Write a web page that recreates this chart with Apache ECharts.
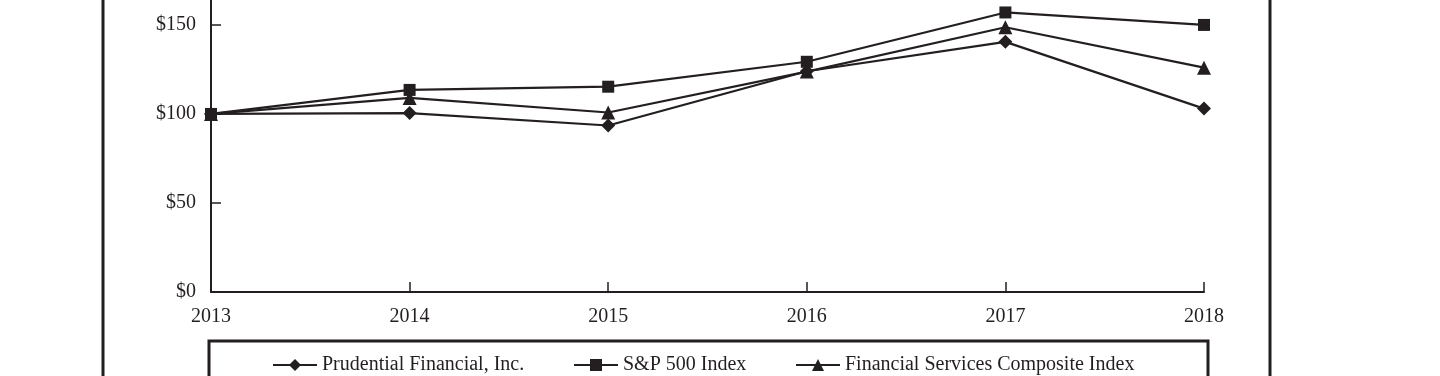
<!DOCTYPE html>
<html>
<head>
<meta charset="utf-8">
<script src="https://cdn.jsdelivr.net/npm/echarts@6/dist/echarts.min.js"></script>
<style>
html,body{margin:0;padding:0;background:#fff;}
#chart{width:1440px;height:376px;}
</style>
</head>
<body>
<div id="chart"></div>
<script>
const years = ['2013', '2014', '2015', '2016', '2017', '2018'];
const prudential = [100, 100.5, 93.5, 124, 140.5, 103];
const sp500 = [100, 113.5, 115.3, 129.3, 157, 150];
const finServices = [100, 109, 100.8, 123.8, 148.7, 126];
const seriesNames = ['Prudential Financial, Inc.', 'S&P 500 Index', 'Financial Services Composite Index'];
const yTicks = [0, 50, 100, 150];

const INK = '#231f20';
const FONT = '"Liberation Serif", "DejaVu Serif", serif';

const chart = echarts.init(document.getElementById('chart'), null, {renderer: 'canvas'});

function mkSeries(name, data, symbol, size) {
  return {
    name: name,
    type: 'line',
    data: data,
    symbol: symbol,
    symbolSize: size,
    showAllSymbol: true,
    lineStyle: {color: INK, width: 2.2},
    itemStyle: {color: INK},
    emphasis: {disabled: true},
    animation: false,
    z: 3
  };
}

const legendBase = {
  top: 355,
  padding: 0,
  itemWidth: 44,
  itemHeight: 15,
  orient: 'horizontal',
  textStyle: {fontFamily: FONT, fontSize: 20, color: INK},
  selectedMode: false
};

chart.setOption({
  animation: false,
  backgroundColor: '#fff',
  grid: {left: 211, right: 236, top: 0, bottom: 84, containLabel: false},
  xAxis: {
    type: 'category',
    data: years,
    boundaryGap: false,
    axisLine: {lineStyle: {color: INK, width: 2}},
    axisTick: {inside: true, length: 10, lineStyle: {color: INK, width: 1.5}},
    axisLabel: {fontFamily: FONT, fontSize: 20, color: INK, margin: 15},
    splitLine: {show: false}
  },
  yAxis: {
    type: 'value',
    min: 0,
    max: 164,
    interval: 50,
    axisLine: {show: true, lineStyle: {color: INK, width: 2}},
    axisTick: {show: true, inside: true, length: 10, customValues: yTicks, lineStyle: {color: INK, width: 1.5}},
    axisLabel: {fontFamily: FONT, fontSize: 20, color: INK, margin: 15, padding: [4, 0, 0, 0], customValues: yTicks, formatter: v => '$' + v},
    splitLine: {show: false}
  },
  legend: [
    Object.assign({}, legendBase, {left: 272, data: [seriesNames[0]]}),
    Object.assign({}, legendBase, {left: 573, data: [seriesNames[1]]}),
    Object.assign({}, legendBase, {left: 795, data: [seriesNames[2]]})
  ],
  graphic: [
    {type: 'rect', shape: {x: 103, y: -100, width: 1167, height: 600}, style: {fill: 'none', stroke: INK, lineWidth: 3}, silent: true},
    {type: 'rect', shape: {x: 209, y: 341, width: 999, height: 100}, style: {fill: 'none', stroke: INK, lineWidth: 3}, silent: true}
  ],
  series: [
    mkSeries(seriesNames[0], prudential, 'diamond', 14),
    mkSeries(seriesNames[1], sp500, 'rect', 12),
    mkSeries(seriesNames[2], finServices, 'triangle', 14)
  ]
});
</script>
</body>
</html>
